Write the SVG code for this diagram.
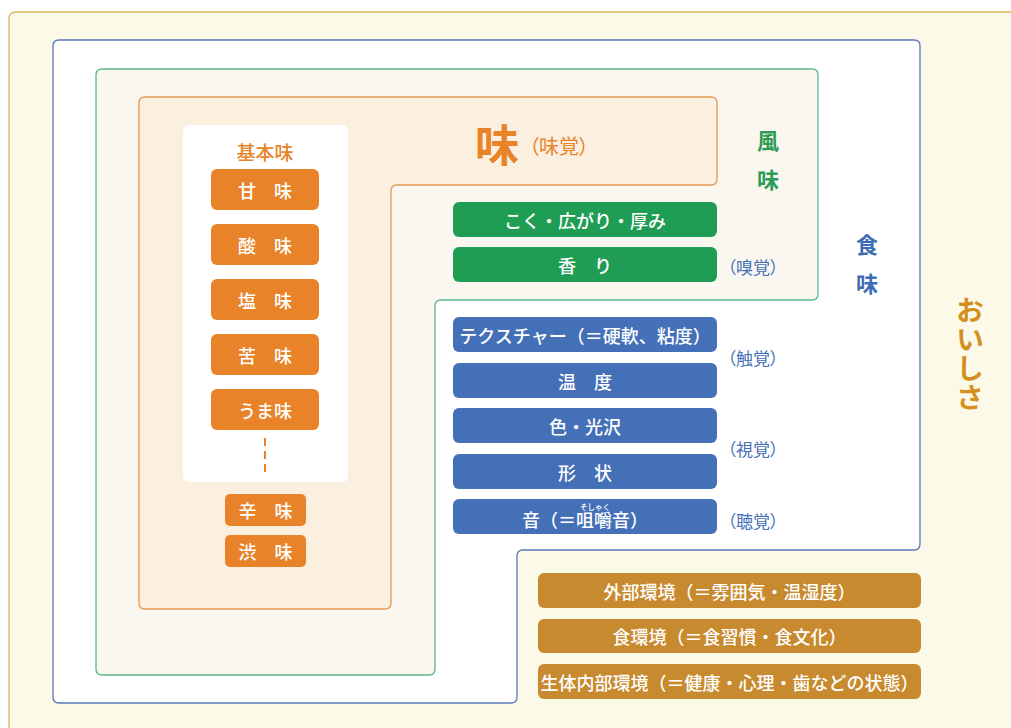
<svg xmlns="http://www.w3.org/2000/svg" width="1011" height="728" viewBox="0 0 1011 728">
<style>
text{font-family:"Noto Sans CJK JP","Noto Sans",sans-serif;text-anchor:middle;dominant-baseline:central}
text.v{writing-mode:vertical-rl;text-anchor:start;dominant-baseline:auto;font-weight:bold}
.bt{fill:#fff;font-size:18px;font-weight:500}
.or{fill:#E8832A}
.gr{fill:#1F9D55}
.bl{fill:#4470B8}
.br{fill:#C88A2E}
.lbl{fill:#4470B8;font-size:17px;font-feature-settings:"palt"}
</style>
<rect width="1011" height="728" fill="#fff"/>
<g id="oishisa-frame">
<rect x="9" y="12" width="1020" height="730" rx="6" fill="#FDF9E8" stroke="#D8B756" stroke-width="1.3"/>
<text class="v" x="970" y="296" font-size="28" letter-spacing="1" fill="#D4901E">おいしさ</text>
</g>
<g id="shokumi-frame">
<path d="M59,40 H914 Q920,40 920,46 V544 Q920,550 914,550 H523 Q517,550 517,556 V697 Q517,703 511,703 H59 Q53,703 53,697 V46 Q53,40 59,40 Z" fill="#fff" stroke="#5A78B8" stroke-width="1.3"/>
<text class="v" x="867" y="234" font-size="22" letter-spacing="17" fill="#3E6DB5">食味</text>
</g>
<g id="fuumi-frame">
<path d="M102,69 H812 Q818,69 818,75 V294 Q818,300 812,300 H441 Q435,300 435,306 V669 Q435,675 429,675 H102 Q96,675 96,669 V75 Q96,69 102,69 Z" fill="#FAF7F0" stroke="#5DB88A" stroke-width="1.3"/>
<text class="v" x="768" y="130" font-size="22" letter-spacing="17" fill="#2E9B55">風味</text>
</g>
<g id="aji-frame">
<path d="M145,97 H711 Q717,97 717,103 V179 Q717,185 711,185 H397 Q391,185 391,191 V603 Q391,609 385,609 H145 Q139,609 139,603 V103 Q139,97 145,97 Z" fill="#FBEFE0" stroke="#E39A55" stroke-width="1.3"/>
<text x="497" y="143" font-size="44" font-weight="bold" fill="#E8832A">味</text>
<text x="559" y="145" font-size="20" fill="#E8832A" style="font-feature-settings:'palt'">（味覚）</text>
</g>
<g id="kihonmi">
<rect x="183" y="125" width="165" height="357" rx="6" fill="#fff"/>
<text x="265" y="151" font-size="19" font-weight="500" fill="#E8832A">基本味</text>
<line x1="265" y1="438" x2="265" y2="476" stroke="#E8832A" stroke-width="2" stroke-dasharray="8,5"/>
</g>
<g id="amami"><rect class="or" x="211" y="169" width="108" height="41" rx="6"/><text class="bt" x="265" y="189.5">甘　味</text></g>
<g id="sanmi"><rect class="or" x="211" y="224" width="108" height="41" rx="6"/><text class="bt" x="265" y="244.5">酸　味</text></g>
<g id="enmi"><rect class="or" x="211" y="279" width="108" height="41" rx="6"/><text class="bt" x="265" y="299.5">塩　味</text></g>
<g id="kumi"><rect class="or" x="211" y="334" width="108" height="41" rx="6"/><text class="bt" x="265" y="354.5">苦　味</text></g>
<g id="umami"><rect class="or" x="211" y="389" width="108" height="41" rx="6"/><text class="bt" x="265" y="409.5">うま味</text></g>
<g id="karami"><rect class="or" x="225" y="494" width="81" height="32" rx="5"/><text class="bt" x="265.5" y="510">辛　味</text></g>
<g id="shibumi"><rect class="or" x="225" y="535" width="81" height="32" rx="5"/><text class="bt" x="265.5" y="551">渋　味</text></g>
<g id="koku"><rect class="gr" x="453" y="202" width="264" height="35" rx="6"/><text class="bt" x="585" y="219.5">こく・広がり・厚み</text></g>
<g id="kaori"><rect class="gr" x="453" y="247" width="264" height="35" rx="6"/><text class="bt" x="585" y="264.5">香　り</text><text class="lbl" x="753" y="266">（嗅覚）</text></g>
<g id="texture"><rect class="bl" x="453" y="317" width="264" height="35" rx="6"/><text class="bt" x="585" y="334.5">テクスチャー（＝硬軟、粘度）</text></g>
<g id="ondo"><rect class="bl" x="453" y="363" width="264" height="35" rx="6"/><text class="bt" x="585" y="380.5">温　度</text></g>
<g id="shokkaku"><text class="lbl" x="753" y="357">（触覚）</text></g>
<g id="iro"><rect class="bl" x="453" y="408" width="264" height="35" rx="6"/><text class="bt" x="585" y="425.5">色・光沢</text></g>
<g id="keijo"><rect class="bl" x="453" y="454" width="264" height="35" rx="6"/><text class="bt" x="585" y="471.5">形　状</text></g>
<g id="shikaku"><text class="lbl" x="753" y="448">（視覚）</text></g>
<g id="oto"><rect class="bl" x="453" y="499" width="264" height="35" rx="6"/><text class="bt" x="585" y="519">音（＝咀嚼音）<tspan x="595" y="506" font-size="7.5">そしゃく</tspan></text><text class="lbl" x="753" y="520">（聴覚）</text></g>
<g id="gaibu"><rect class="br" x="538" y="573" width="383" height="35" rx="6"/><text class="bt" x="729.5" y="590.5">外部環境（＝雰囲気・温湿度）</text></g>
<g id="shokukankyo"><rect class="br" x="538" y="619" width="383" height="34" rx="6"/><text class="bt" x="729.5" y="636">食環境（＝食習慣・食文化）</text></g>
<g id="seitai"><rect class="br" x="538" y="664" width="383" height="35" rx="6"/><text class="bt" x="729.5" y="681.5">生体内部環境（＝健康・心理・歯などの状態）</text></g>
<g id="connectors"></g>
</svg>
